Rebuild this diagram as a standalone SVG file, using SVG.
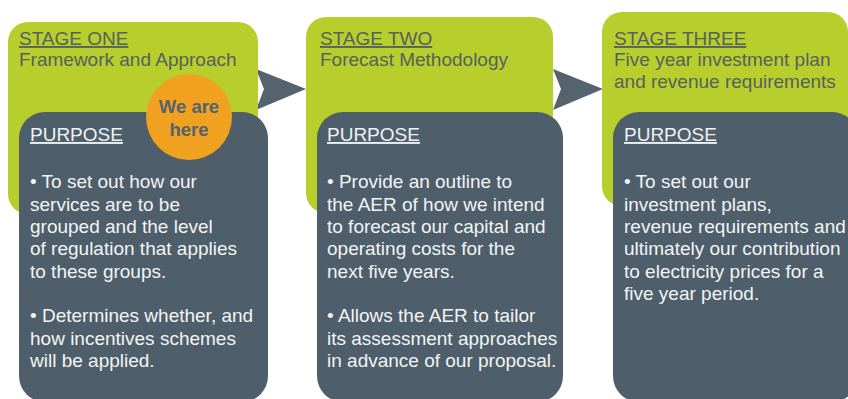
<svg xmlns="http://www.w3.org/2000/svg" width="848" height="399" viewBox="0 0 848 399">
<style>
.green{fill:#b7ce2c}
.dark{fill:#4e5e6a}
.arrow{fill:#55636e}
.title{font-family:"Liberation Sans",Arial,sans-serif;font-size:19px;fill:#55615f}
.purpose{font-family:"Liberation Sans",Arial,sans-serif;font-size:19px;fill:#eef2f4;text-decoration:underline}
.body{font-family:"Liberation Sans",Arial,sans-serif;font-size:19px;fill:#f2f4f5}
.here{font-family:"Liberation Sans",Arial,sans-serif;font-size:18.5px;font-weight:bold;fill:#55636e;text-anchor:middle}
</style>
<rect width="848" height="399" fill="#ffffff"/>
<g id="connectors">
<polygon class="arrow" points="256,69 306,89 256,110 264,89"/>
<polygon class="arrow" points="553,69 603,89 553,110 561,89"/>
</g>
<g id="stage1">
<rect class="green" x="8" y="22" width="250" height="192" rx="20"/>
<text class="title" x="19" y="45" style="text-decoration:underline">STAGE ONE</text>
<text class="title" x="19" y="66">Framework and Approach</text>
<rect class="dark" x="19" y="112" width="249" height="290" rx="26"/>
<text class="purpose" x="30" y="141">PURPOSE</text>
<text class="body" x="30" y="188">• To set out how our</text>
<text class="body" x="30" y="211">services are to be</text>
<text class="body" x="30" y="233">grouped and the level</text>
<text class="body" x="30" y="255">of regulation that applies</text>
<text class="body" x="30" y="278">to these groups.</text>
<text class="body" x="30" y="322">• Determines whether, and</text>
<text class="body" x="30" y="345">how incentives schemes</text>
<text class="body" x="30" y="367">will be applied.</text>
</g>
<g id="here">
<circle cx="189" cy="117" r="43" fill="#f0a11f"/>
<text class="here" x="189" y="113">We are</text>
<text class="here" x="189" y="136">here</text>
</g>
<g id="stage2">
<rect class="green" x="306" y="17" width="247" height="196" rx="20"/>
<text class="title" x="320" y="45" style="text-decoration:underline">STAGE TWO</text>
<text class="title" x="320" y="66">Forecast Methodology</text>
<rect class="dark" x="317" y="112" width="246" height="290" rx="26"/>
<text class="purpose" x="327" y="141">PURPOSE</text>
<text class="body" x="327" y="188">• Provide an outline to</text>
<text class="body" x="327" y="211">the AER of how we intend</text>
<text class="body" x="327" y="233">to forecast our capital and</text>
<text class="body" x="327" y="255">operating costs for the</text>
<text class="body" x="327" y="278">next five years.</text>
<text class="body" x="327" y="322">• Allows the AER to tailor</text>
<text class="body" x="327" y="345">its assessment approaches</text>
<text class="body" x="327" y="367">in advance of our proposal.</text>
</g>
<g id="stage3">
<rect class="green" x="602" y="12" width="246" height="194" rx="20"/>
<text class="title" x="614" y="45" style="text-decoration:underline">STAGE THREE</text>
<text class="title" x="614" y="66">Five year investment plan</text>
<text class="title" x="614" y="88">and revenue requirements</text>
<rect class="dark" x="613" y="112" width="245" height="290" rx="26"/>
<text class="purpose" x="624" y="141">PURPOSE</text>
<text class="body" x="624" y="188">• To set out our</text>
<text class="body" x="624" y="211">investment plans,</text>
<text class="body" x="624" y="233">revenue requirements and</text>
<text class="body" x="624" y="255">ultimately our contribution</text>
<text class="body" x="624" y="278">to electricity prices for a</text>
<text class="body" x="624" y="300">five year period.</text>
</g>
</svg>
